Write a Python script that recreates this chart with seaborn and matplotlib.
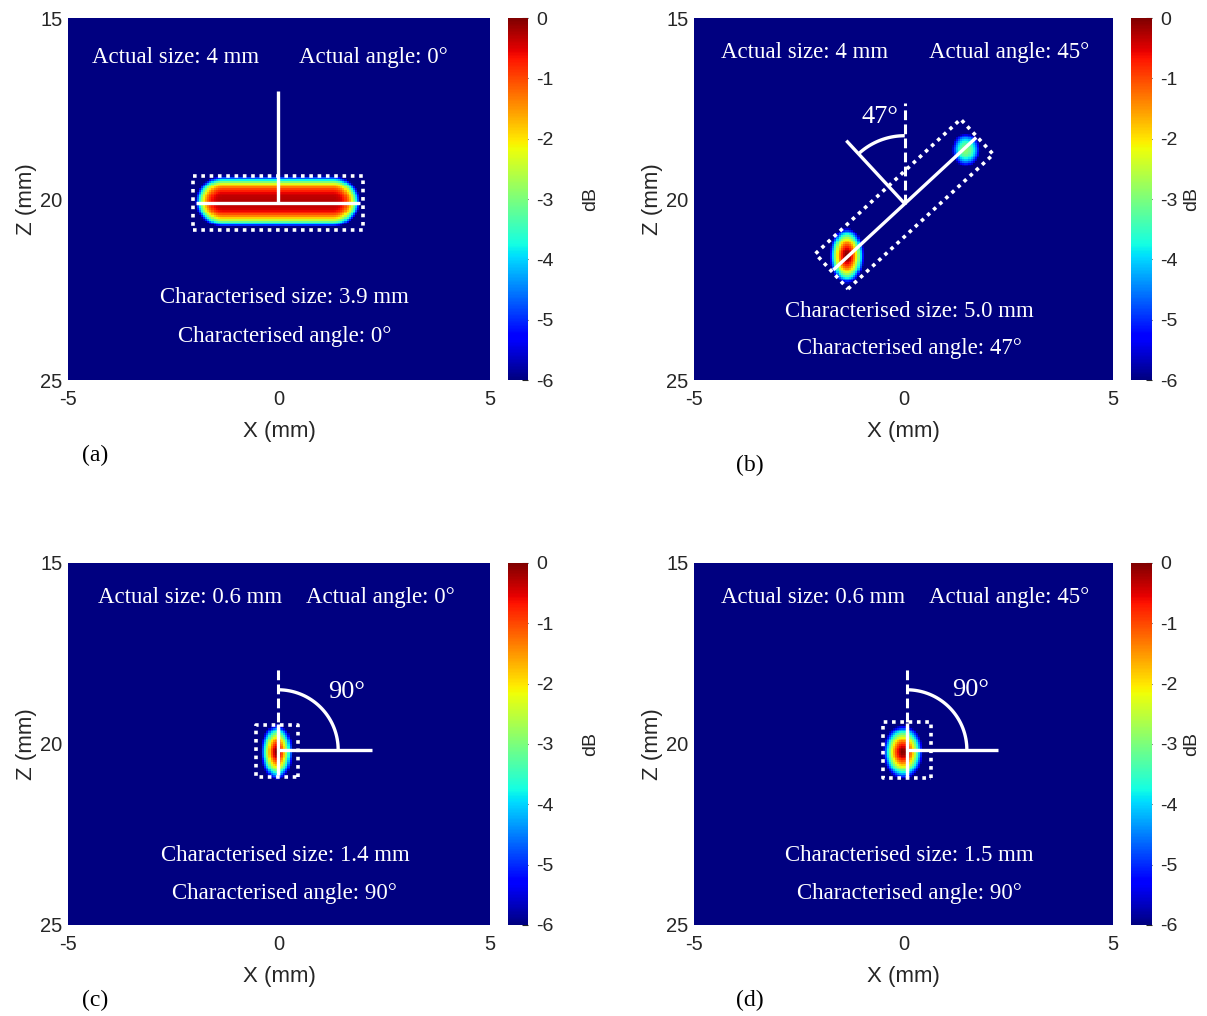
import numpy as np
import pandas as pd
import matplotlib
matplotlib.use("Agg")
import matplotlib.pyplot as plt
import seaborn as sns

sns.set_theme(style="white")
plt.rcParams["font.family"] = ["Liberation Sans", "DejaVu Sans"]
plt.rcParams["axes.unicode_minus"] = False
SERIF = ["Liberation Serif", "DejaVu Serif"]

# ---------------------------------------------------------------- data
X_RANGE = (-5.0, 5.0)          # lateral position, mm
Z_RANGE = (15.0, 25.0)         # depth, mm
STEP = 0.05                    # image pixel pitch, mm
X_TICKS = [-5, 0, 5]
Z_TICKS = [15, 20, 25]
DB_TICKS = [0, -1, -2, -3, -4, -5, -6]
DB_MIN, DB_MAX = -6, 0

PANELS = ["a", "b", "c", "d"]

# reconstructed lobes (one entry per lobe)
lobe_panel = ["a", "b", "b", "c", "d"]
lobe_x = [-0.03, -1.35, 1.49, -0.05, -0.01]      # centre X, mm
lobe_z = [20.07, 21.57, 18.64, 20.22, 20.22]     # centre Z, mm
lobe_flat = [1.30, 0.0, 0.0, 0.0, 0.0]           # flat half-length along X, mm
lobe_wx = [0.66, 0.41, 0.34, 0.38, 0.49]         # -6 dB half-width in X, mm
lobe_wz = [0.70, 0.78, 0.46, 0.78, 0.75]         # -6 dB half-width in Z, mm
lobe_peak = [-0.3, 0.0, -2.9, 0.0, 0.0]          # peak amplitude, dB
lobe_shape = [3.0, 1.8, 2.0, 1.6, 1.6]           # roll-off exponent

actual_size = ["4", "4", "0.6", "0.6"]           # mm
actual_angle = [0, 45, 0, 45]                    # deg
char_size = [3.9, 5.0, 1.4, 1.5]                 # mm
char_angle = [0, 47, 90, 90]                     # deg

# ---------------------------------------------------------------- layout
AX_POS = [[0.05634, 0.62598, 0.34963, 0.35630],
          [0.57498, 0.62598, 0.34714, 0.35630],
          [0.05634, 0.08957, 0.34963, 0.35630],
          [0.57498, 0.08957, 0.34714, 0.35630]]
CB_POS = [[0.42088, 0.62598, 0.01657, 0.35630],
          [0.93703, 0.62598, 0.01740, 0.35630],
          [0.42088, 0.08957, 0.01657, 0.35630],
          [0.93703, 0.08957, 0.01740, 0.35630]]
DB_LABEL_X = [0.4896, 0.9876, 0.4896, 0.9876]
LETTER_POS = [(0.0787, 0.552), (0.6214, 0.5423), (0.0787, 0.0157), (0.6214, 0.0157)]

# characterisation overlay geometry
line_cx = [-0.02, 0.03, -0.02, 0.08]
line_cz = [20.11, 20.13, 20.16, 20.16]
box_cx = [-0.025, 0.02, -0.045, 0.075]
box_cz = [20.12, 20.14, 20.18, 20.175]
box_half_len_px = [85, 99, 26, 28]
box_half_wid_px = [27, 24, 21, 24]
normal_side = [1, 1, -1, -1]
normal_len_px = [112, 86, 94, 91]
ref_len_px = [0, 101, 83, 83]
arc_r_px = [0, 68, 60, 60]
angle_lbl = [None, (-0.56, 17.73), (1.61, 18.56), (1.59, 18.51)]

size_txt_x = [-2.46, -2.35, -2.10, -2.15]
angle_txt_x = [2.23, 2.52, 2.41, 2.52]
actual_txt_z = [16.08, 15.94, 15.94, 15.94]
char_txt_x = [0.14, 0.13, 0.14, 0.13]
char_size_z = [22.73, 23.12, 23.07, 23.07]
char_angle_z = [23.81, 24.12, 24.12, 24.12]

x_c = np.arange(X_RANGE[0] + STEP / 2, X_RANGE[1], STEP)
z_c = np.arange(Z_RANGE[0] + STEP / 2, Z_RANGE[1], STEP)


def image_db(panel):
    xx, zz = np.meshgrid(x_c, z_c)
    img = np.full(xx.shape, float(DB_MIN))
    for p, cx, cz, fl, wx, wz, pk, sh in zip(lobe_panel, lobe_x, lobe_z, lobe_flat,
                                             lobe_wx, lobe_wz, lobe_peak, lobe_shape):
        if p != panel:
            continue
        u = np.maximum(np.abs(xx - cx) - fl, 0.0) / wx
        v = (zz - cz) / wz
        r = np.hypot(u, v)
        img = np.maximum(img, pk - (DB_MAX - DB_MIN + pk) * r ** sh)
    return np.clip(img, DB_MIN, DB_MAX)


def to_idx(xm, zm):
    return ((np.asarray(xm, float) - X_RANGE[0]) / STEP,
            (np.asarray(zm, float) - Z_RANGE[0]) / STEP)


fig = plt.figure(figsize=(12.07, 10.16), dpi=100)
fig.patch.set_facecolor("white")

W = dict(color="white", solid_capstyle="butt", zorder=5)
INK = "#262626"

for k, p in enumerate(PANELS):
    ax = fig.add_axes(AX_POS[k])
    cax = fig.add_axes(CB_POS[k])
    df = pd.DataFrame(image_db(p), index=np.round(z_c, 3), columns=np.round(x_c, 3))
    sns.heatmap(df, ax=ax, cmap="jet", vmin=DB_MIN, vmax=DB_MAX, cbar_ax=cax,
                xticklabels=False, yticklabels=False, rasterized=True)

    ax.set_xticks(to_idx(X_TICKS, 0)[0])
    ax.set_xticklabels([str(t) for t in X_TICKS])
    ax.set_yticks(to_idx(0, Z_TICKS)[1])
    ax.set_yticklabels([str(t) for t in Z_TICKS], rotation=0)
    ax.tick_params(axis="x", length=0, labelsize=14.5, pad=7, colors=INK)
    ax.tick_params(axis="y", length=0, labelsize=14.5, pad=4, colors=INK)
    ax.set_xlabel("X (mm)", fontsize=16, labelpad=9, color=INK)
    ax.set_ylabel("Z (mm)", fontsize=16, labelpad=2, color=INK)

    cax.set_yticks(DB_TICKS)
    cax.set_yticklabels([str(t) for t in DB_TICKS])
    cax.tick_params(direction="in", length=4, width=0.8, color=INK,
                    labelsize=14, pad=6, labelcolor=INK, right=True)
    cb_box = CB_POS[k]
    fig.text(DB_LABEL_X[k], cb_box[1] + cb_box[3] / 2, "dB", rotation=90,
             fontsize=14, color=INK, ha="center", va="center")

    # pixels per mm on screen
    sx = ax.bbox.width / (X_RANGE[1] - X_RANGE[0])
    sz = ax.bbox.height / (Z_RANGE[1] - Z_RANGE[0])

    th = np.radians(char_angle[k])
    cx, cz = line_cx[k], line_cz[k]
    half = char_size[k] / 2
    lx = [cx - half * np.cos(th), cx + half * np.cos(th)]
    lz = [cz + half * np.sin(th), cz - half * np.sin(th)]

    d = np.array([np.cos(th) * sx, np.sin(th) * sz])
    d /= np.hypot(*d)
    n = normal_side[k] * np.array([-d[1], d[0]])

    def scr(x0, z0, dx, dy):
        return x0 + dx / sx, z0 - dy / sz

    # dotted bounding box
    bc = (box_cx[k], box_cz[k])
    L, Wd = box_half_len_px[k], box_half_wid_px[k]
    corners = []
    for a, b in [(-1, -1), (1, -1), (1, 1), (-1, 1), (-1, -1)]:
        off = a * L * d + b * Wd * np.array([-d[1], d[0]])
        corners.append(scr(bc[0], bc[1], off[0], off[1]))
    bx, bz = to_idx([c[0] for c in corners], [c[1] for c in corners])
    ax.plot(bx, bz, lw=2.6, linestyle=(0, (1.0, 1.3)), dash_capstyle="butt", **W)

    # vertical reference
    if ref_len_px[k] > 0:
        rx, rz = to_idx([cx, cx], [cz, cz - ref_len_px[k] / sz])
        ax.plot(rx, rz, lw=2.2, linestyle=(0, (3.2, 1.4)), **W)

    # characterised extent
    ix, iz = to_idx(lx, lz)
    ax.plot(ix, iz, lw=2.4, **W)

    # normal to the characterised extent
    ne = scr(cx, cz, n[0] * normal_len_px[k], n[1] * normal_len_px[k])
    nx_, nz_ = to_idx([cx, ne[0]], [cz, ne[1]])
    ax.plot(nx_, nz_, lw=2.4, **W)

    # angle arc between reference and normal
    if arc_r_px[k] > 0:
        phi_n = np.arctan2(n[0], n[1])
        phi = np.linspace(0, phi_n, 60)
        axc, azc = scr(cx, cz, arc_r_px[k] * np.sin(phi), arc_r_px[k] * np.cos(phi))
        ai, aj = to_idx(axc, azc)
        ax.plot(ai, aj, lw=2.4, **W)
        tx, tz = to_idx(*angle_lbl[k])
        ax.text(tx, tz, f"{char_angle[k]}°", color="white", fontsize=19,
                family=SERIF, ha="center", va="center", zorder=6)

    # text annotations
    tf = dict(color="white", fontsize=16.5, family=SERIF, ha="center", va="center", zorder=6)
    ax.text(*to_idx(size_txt_x[k], actual_txt_z[k]), f"Actual size: {actual_size[k]} mm", **tf)
    ax.text(*to_idx(angle_txt_x[k], actual_txt_z[k]), f"Actual angle: {actual_angle[k]}°", **tf)
    ax.text(*to_idx(char_txt_x[k], char_size_z[k]),
            f"Characterised size: {char_size[k]:.1f} mm", **tf)
    ax.text(*to_idx(char_txt_x[k], char_angle_z[k]),
            f"Characterised angle: {char_angle[k]}°", **tf)

    fig.text(*LETTER_POS[k], f"({p})", fontsize=17, family=SERIF,
             ha="center", va="center", color="black")

fig.savefig("out.png", dpi=100, facecolor="white")
